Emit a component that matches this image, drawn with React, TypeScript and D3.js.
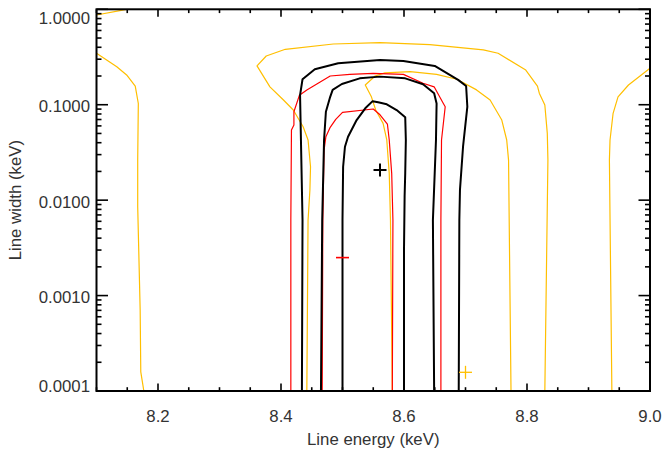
import React from "react";
import * as d3 from "d3";

// contour levels, each a list of [line energy (keV), line width (keV)]
const blackInner: [number, number][] = [
  [8.5, 0.0001], [8.5, 0.00618], [8.501, 0.0224], [8.504, 0.0363], [8.509, 0.0462],
  [8.523, 0.0691], [8.537, 0.0917], [8.549, 0.109], [8.558, 0.106], [8.572, 0.101],
  [8.588, 0.088], [8.602, 0.0738], [8.603, 0.0427], [8.602, 0.0191], [8.601, 0.0109],
  [8.6, 0.003], [8.6, 0.0001],
];
const blackMiddle: [number, number][] = [
  [8.465, 0.0001], [8.467, 0.00618], [8.47, 0.0427], [8.473, 0.0845], [8.48, 0.121],
  [8.484, 0.143], [8.499, 0.165], [8.528, 0.189], [8.561, 0.197], [8.602, 0.189],
  [8.631, 0.164], [8.649, 0.132], [8.653, 0.103], [8.652, 0.0427], [8.647, 0.00618],
  [8.649, 0.0001],
];
const blackOuter: [number, number][] = [
  [8.434, 0.0001], [8.435, 0.00618], [8.431, 0.126], [8.435, 0.185], [8.455, 0.235],
  [8.493, 0.272], [8.561, 0.294], [8.599, 0.287], [8.65, 0.255], [8.688, 0.182],
  [8.701, 0.157], [8.703, 0.0953], [8.696, 0.0363], [8.691, 0.0128], [8.69, 0.00618],
  [8.689, 0.0001],
];
const redInner: [number, number][] = [
  [8.467, 0.0001], [8.468, 0.00618], [8.47, 0.0335], [8.473, 0.0462], [8.48, 0.0579],
  [8.489, 0.0703], [8.5, 0.0832], [8.55, 0.0902], [8.561, 0.0785], [8.573, 0.0628],
  [8.576, 0.0427], [8.58, 0.0191], [8.582, 0.00618], [8.581, 0.0001],
];
const redOuter: [number, number][] = [
  [8.416, 0.0001], [8.416, 0.00618], [8.417, 0.0543], [8.421, 0.0612], [8.421, 0.0845],
  [8.43, 0.126], [8.442, 0.143], [8.48, 0.2], [8.512, 0.208], [8.55, 0.213],
  [8.599, 0.208], [8.631, 0.168], [8.649, 0.154], [8.664, 0.103], [8.667, 0.0953],
  [8.661, 0.0427], [8.66, 0.00618], [8.66, 0.0001],
];
const yellowCorner: [number, number][] = [[8.1, 0.871], [8.149, 1.0]];
const yellowLeft: [number, number][] = [
  [8.1, 0.346], [8.133, 0.25], [8.149, 0.205], [8.163, 0.157], [8.168, 0.103],
  [8.167, 0.0263], [8.167, 0.00853], [8.171, 0.000705], [8.172, 0.000159], [8.177, 0.0001],
];
const yellowRight: [number, number][] = [
  [9.0, 0.241], [8.965, 0.161], [8.948, 0.121], [8.94, 0.0813], [8.935, 0.0427],
  [8.934, 0.0263], [8.938, 0.0001],
];
const yellowOuter: [number, number][] = [
  [8.442, 0.0001], [8.444, 0.00618], [8.447, 0.0128], [8.448, 0.0224], [8.444, 0.0427],
  [8.436, 0.0588], [8.42, 0.088], [8.404, 0.112], [8.382, 0.154], [8.361, 0.255],
  [8.376, 0.324], [8.407, 0.381], [8.485, 0.433], [8.561, 0.447], [8.642, 0.426],
  [8.729, 0.375], [8.753, 0.346], [8.798, 0.231], [8.817, 0.157], [8.82, 0.132],
  [8.829, 0.0993], [8.833, 0.0501], [8.834, 0.0263], [8.829, 0.0001],
];
const yellowInner: [number, number][] = [
  [8.581, 0.0001], [8.578, 0.00618], [8.576, 0.0191], [8.572, 0.0427], [8.566, 0.0638],
  [8.554, 0.088], [8.547, 0.121], [8.537, 0.161], [8.553, 0.2], [8.569, 0.216],
  [8.61, 0.222], [8.653, 0.208], [8.686, 0.185], [8.718, 0.143], [8.74, 0.112],
  [8.759, 0.0691], [8.767, 0.0427], [8.77, 0.0263], [8.774, 0.0001],
];

// best-fit markers
const bestFits = [
  { e: 8.561, w: 0.0207, color: "#000000", vertical: true, sw: 2 },
  { e: 8.5, w: 0.0025, color: "#ff0000", vertical: false, sw: 1.6 },
  { e: 8.7, w: 0.000157, color: "#ffbf00", vertical: true, sw: 1.3 },
];

const xMajor = [8.2, 8.4, 8.6, 8.8, 9.0];
const yMajor = [0.0001, 0.001, 0.01, 0.1, 1];

const W = 663, H = 453;
const L = 96.5, R = 650, T = 9.3, B = 391;
const YELLOW = "#ffbf00";

export default function App() {
  const x = d3.scaleLinear().domain([8.1, 9.0]).range([L, R]);
  const y = d3.scaleLog().domain([0.0001, 1]).range([B, T]);
  const line = d3.line<[number, number]>().x(d => x(d[0])).y(d => y(d[1]));

  const xMinor = d3.range(0, 19).map(i => +(8.1 + i * 0.05).toFixed(2))
    .filter(v => !xMajor.some(m => Math.abs(m - v) < 1e-6));
  const yMinor: number[] = [];
  yMajor.slice(0, -1).forEach(m => { for (let k = 2; k <= 9; k++) yMinor.push(m * k); });

  const contours = [
    { d: yellowCorner, c: YELLOW, w: 1.2 },
    { d: yellowLeft, c: YELLOW, w: 1.2 },
    { d: yellowRight, c: YELLOW, w: 1.2 },
    { d: yellowOuter, c: YELLOW, w: 1.2 },
    { d: yellowInner, c: YELLOW, w: 1.2 },
    { d: redOuter, c: "#ff0000", w: 1.2 },
    { d: redInner, c: "#ff0000", w: 1.2 },
    { d: blackOuter, c: "#000", w: 2 },
    { d: blackMiddle, c: "#000", w: 2 },
    { d: blackInner, c: "#000", w: 2 },
  ];

  const font = { fontFamily: "'Liberation Sans', Arial, sans-serif", fontSize: 16.8, fill: "#333" };
  const fmt = d3.format(".4f");

  return (
    <svg width={W} height={H} style={{ position: "absolute", left: 0, top: 0, background: "#fff" }}>
      <defs>
        <clipPath id="plot"><rect x={L} y={T} width={R - L} height={B - T} /></clipPath>
      </defs>
      <g clipPath="url(#plot)">
        {contours.map((c, i) => (
          <path key={i} d={line(c.d) || ""} fill="none" stroke={c.c} strokeWidth={c.w} strokeLinejoin="round" />
        ))}
      </g>
      {bestFits.map((m, i) => (
        <g key={i} stroke={m.color} strokeWidth={m.sw}>
          <line x1={x(m.e) - 6.5} x2={x(m.e) + 6.5} y1={y(m.w)} y2={y(m.w)} />
          {m.vertical && <line x1={x(m.e)} x2={x(m.e)} y1={y(m.w) - 6.5} y2={y(m.w) + 6.5} />}
        </g>
      ))}
      {/* frame and ticks */}
      <g stroke="#000" strokeWidth={1.6}>
        {xMajor.map(v => (
          <g key={"xM" + v}>
            <line x1={x(v)} x2={x(v)} y1={B} y2={B - 7.5} />
            <line x1={x(v)} x2={x(v)} y1={T} y2={T + 7.5} />
          </g>
        ))}
        {xMinor.map(v => (
          <g key={"xm" + v}>
            <line x1={x(v)} x2={x(v)} y1={B} y2={B - 3.8} />
            <line x1={x(v)} x2={x(v)} y1={T} y2={T + 3.8} />
          </g>
        ))}
        {yMajor.map(v => (
          <g key={"yM" + v}>
            <line x1={L} x2={L + 11.5} y1={y(v)} y2={y(v)} />
            <line x1={R} x2={R - 11.5} y1={y(v)} y2={y(v)} />
          </g>
        ))}
        {yMinor.map(v => (
          <g key={"ym" + v}>
            <line x1={L} x2={L + 5} y1={y(v)} y2={y(v)} />
            <line x1={R} x2={R - 5} y1={y(v)} y2={y(v)} />
          </g>
        ))}
        <rect x={L} y={T} width={R - L} height={B - T} fill="none" strokeWidth={2} />
      </g>
      {xMajor.map(v => (
        <text key={"xl" + v} x={x(v)} y={422} textAnchor="middle" {...font}>{v.toFixed(1)}</text>
      ))}
      {yMajor.map(v => (
        <text key={"yl" + v} x={90} y={Math.min(B + 0.7, Math.max(24, y(v) + 7.5))} textAnchor="end" {...font}>{fmt(v)}</text>
      ))}
      <text x={(L + R) / 2} y={445} textAnchor="middle" {...font}>Line energy (keV)</text>
      <text transform={`translate(21,${(T + B) / 2}) rotate(-90)`} textAnchor="middle" {...font}>Line width (keV)</text>
    </svg>
  );
}
